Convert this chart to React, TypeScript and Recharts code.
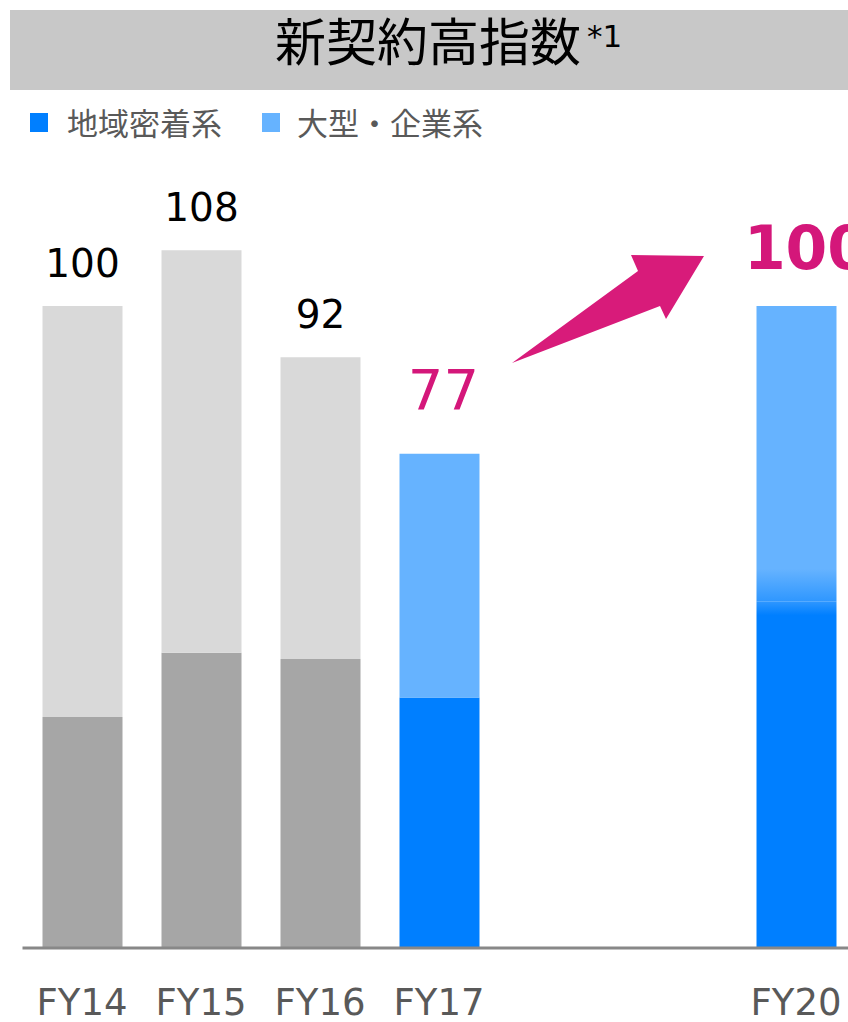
import React from 'react';
import { BarChart, Bar, XAxis, YAxis, Cell, LabelList } from 'recharts';

const categories = ['FY14', 'FY15', 'FY16', 'FY17', 'FY18', 'FY19', 'FY20'];
const tickLabels = ['FY14', 'FY15', 'FY16', 'FY17', '', '', 'FY20'];
const localValues = [36, 46, 45, 39, null, null, 54];
const largeValues = [64, 62.7, 47, 38, null, null, 46];
const totals = [100, 108, 92, 77, null, null, 100];
const seriesNames = ['地域密着系', '大型・企業系'];

const data = categories.map((name, i) => ({
  name,
  local: localValues[i],
  large: largeValues[i],
}));

const PLOT_BOTTOM = 948;
const PX_PER_UNIT = 6.42;
const Y_MAX = 120;
const MAGENTA = '#d4177a';
const CJK = '"Noto Sans CJK JP", "Noto Sans", sans-serif';
const LATIN = '"DejaVu Sans", Verdana, sans-serif';

const lowerColors = ['#a6a6a6', '#a6a6a6', '#a6a6a6', '#007fff', '#007fff', '#007fff', 'url(#fy20low)'];
const upperColors = ['#d9d9d9', '#d9d9d9', '#d9d9d9', '#66b3ff', '#66b3ff', '#66b3ff', 'url(#fy20grad)'];

// label value is the category name, so we can look the total up by it
const TotalLabel = (props: any) => {
  const { x, y, width, value } = props;
  const index = categories.indexOf(value);
  const v = totals[index];
  if (v == null) return null;
  const cx = x + width / 2;
  if (index === 3) {
    return (
      <text x={cx + 4} y={y - 45} textAnchor="middle" fill={MAGENTA} fontSize={56} fontFamily={LATIN}>
        {v}
      </text>
    );
  }
  if (index === 6) {
    return (
      <text x={cx + 10} y={y - 37} textAnchor="middle" fill={MAGENTA} fontSize={60} fontWeight="bold" fontFamily={LATIN}>
        {v}
      </text>
    );
  }
  return (
    <text x={cx} y={y - 29} textAnchor="middle" fill="#000" fontSize={39} fontFamily={LATIN}>
      {v}
    </text>
  );
};

const Tick = (props: any) => {
  const { x, payload } = props;
  const label = tickLabels[payload.index];
  return (
    <text x={x} y={PLOT_BOTTOM + 67} textAnchor="middle" fill="#595959" fontSize={37} fontFamily={LATIN}>
      {label}
    </text>
  );
};

export default function App() {
  const top = PLOT_BOTTOM - Y_MAX * PX_PER_UNIT;
  return (
    <div style={{ position: 'relative', width: 848, height: 1022, overflow: 'hidden', background: '#fff' }}>
      <style>{'body{margin:0}'}</style>
      <div
        style={{
          position: 'absolute', left: 10, top: 10, width: 838, height: 80, background: '#c8c8c8',
          fontFamily: CJK, fontSize: 51, lineHeight: '58px', color: '#000',
        }}
      >
        <span style={{ position: 'absolute', left: 265, top: 0, whiteSpace: 'nowrap' }}>
          新契約高指数
          <span style={{ position: 'relative', top: -14, marginLeft: 6, fontSize: 31, fontFamily: LATIN }}>*1</span>
        </span>
      </div>
      <div
        style={{
          position: 'absolute', left: 30, top: 104, display: 'flex', alignItems: 'center',
          fontFamily: CJK, fontSize: 31, color: '#595959', lineHeight: '36px',
        }}
      >
        <span style={{ width: 18, height: 19, background: '#007fff', display: 'inline-block' }} />
        <span style={{ marginLeft: 19 }}>{seriesNames[0]}</span>
        <span style={{ width: 18, height: 19, background: '#66b3ff', display: 'inline-block', marginLeft: 40 }} />
        <span style={{ marginLeft: 17 }}>{seriesNames[1]}</span>
      </div>
      <div style={{ position: 'absolute', left: 0, top: 0 }}>
        <BarChart
          width={860}
          height={1022}
          data={data}
          margin={{ top, right: 4.5, bottom: 0, left: 22.5 }}
          barCategoryGap={0}
          barSize={80}
        >
          <defs>
            <linearGradient id="fy20grad" x1="0" y1="0" x2="0" y2="1">
              <stop offset="0%" stopColor="#66b3ff" />
              <stop offset="89%" stopColor="#66b3ff" />
              <stop offset="100%" stopColor="#2f97ff" />
            </linearGradient>
            <linearGradient id="fy20low" x1="0" y1="0" x2="0" y2="1">
              <stop offset="0%" stopColor="#2f97ff" />
              <stop offset="4%" stopColor="#007fff" />
              <stop offset="100%" stopColor="#007fff" />
            </linearGradient>
          </defs>
          <XAxis
            dataKey="name"
            interval={0}
            height={74}
            tickLine={false}
            axisLine={{ stroke: '#888888', strokeWidth: 3 }}
            tick={<Tick />}
          />
          <YAxis hide domain={[0, Y_MAX]} />
          <Bar dataKey="local" stackId="a" isAnimationActive={false}>
            {data.map((_, i) => (
              <Cell key={i} fill={lowerColors[i]} />
            ))}
          </Bar>
          <Bar dataKey="large" stackId="a" isAnimationActive={false}>
            {data.map((_, i) => (
              <Cell key={i} fill={upperColors[i]} />
            ))}
            <LabelList dataKey="name" content={<TotalLabel />} />
          </Bar>
        </BarChart>
      </div>
      <svg width={848} height={1022} style={{ position: 'absolute', left: 0, top: 0, pointerEvents: 'none' }}>
        <polygon points="512,363 638,271 631,255 704,256 666,319 660,306" fill="#d81b7a" />
      </svg>
    </div>
  );
}
